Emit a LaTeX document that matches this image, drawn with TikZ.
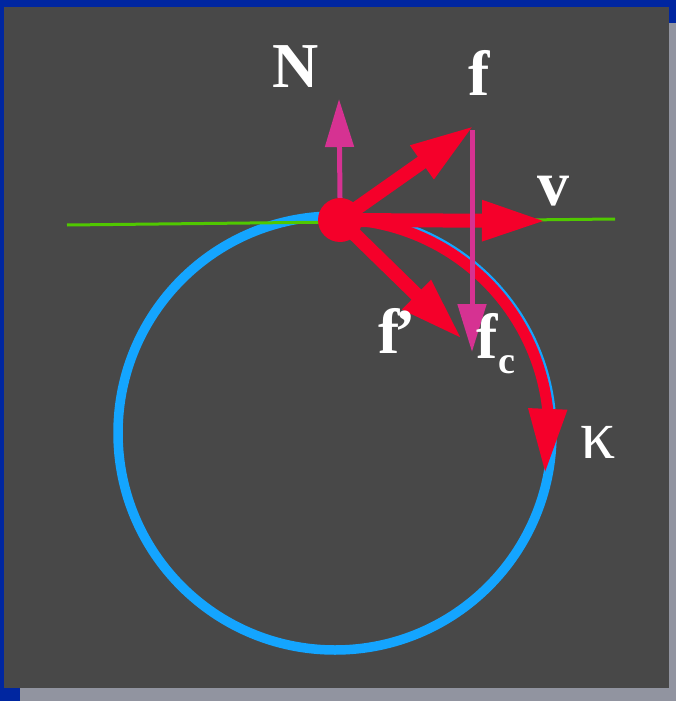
\documentclass[tikz,border=0pt]{standalone}
\usepackage{fontspec}
\setmainfont{Liberation Serif}
\usetikzlibrary{arrows.meta,bending,calc}
\definecolor{slideblue}{RGB}{0,38,160}
\definecolor{shadowgray}{RGB}{145,148,160}
\definecolor{boardgray}{RGB}{72,72,72}
\definecolor{vecred}{RGB}{245,0,42}
\definecolor{vecpink}{RGB}{214,50,146}
\definecolor{orbitblue}{RGB}{20,165,255}
\definecolor{tangreen}{RGB}{80,200,0}
\tikzset{
redvec/.style={vecred,line width=14pt,-{Triangle[length=65pt,width=37pt]}},
pinkvec/.style={vecpink,line width=5pt,-{Triangle[length=48pt,width=28pt]}},
curvevec/.style={vecred,line width=11pt,-{Triangle[length=65pt,width=36pt,flex]}},
orbit/.style={orbitblue,line width=9.5pt},
tangent/.style={tangreen,line width=3pt},
lbl/.style={text=white,inner sep=0pt,anchor=base,font=\fontsize{64}{64}\selectfont\bfseries},
sublbl/.style={font=\fontsize{38}{38}\selectfont\bfseries}
}

\begin{document}
\begin{tikzpicture}[x=1pt,y=-1pt]
% slide frame
\fill[slideblue] (0,0) rectangle (676,701);
\fill[shadowgray] (20,23) rectangle (676,701);
\fill[boardgray] (4,7) rectangle (669,688);
\useasboundingbox (0,0) rectangle (676,701);

\coordinate (O) at (335,433);
\draw[orbit] (O) circle[radius=217];
\coordinate (tanL) at (67,225);
\coordinate (tanR) at (615,219);
\draw[tangent] (tanL) -- (tanR);

\node[circle,fill=vecred,minimum size=44pt,inner sep=0pt] (P) at (340,220) {};
\coordinate (fTip) at (475,125);
\coordinate (vTip) at (547,221);
\coordinate (fpTip) at (463,340);
\coordinate (NTip) at (339,99);
\coordinate (fcTop) at (472,130);
\coordinate (fcTip) at (472,352);

% vectors
\draw[curvevec] ($(O)+(-88:214)$) arc[start angle=-88,end angle=11,radius=214];
\draw[redvec] (P.center) -- (fTip);
\draw[redvec] (P.center) -- (vTip);
\draw[redvec] (P.center) -- (fpTip);
\draw[pinkvec] (P.north) -- (NTip);
\draw[pinkvec] (fcTop) -- (fcTip);

% labels
\node[lbl] (lN) at (296,87) {N};
\node[lbl] (lf) at (479,95) {f};
\node[lbl] (lv) at (553,205) {v};
\node[lbl] (lfp) at (397,353) {f\kern-5pt'};
\node[lbl] (lfc) at (496,358) {f\raisebox{-15pt}{\tikz[baseline]\node[sublbl,text=white,inner sep=0pt,anchor=base]{c};}};
\node[lbl,font=\fontsize{70}{70}\selectfont] (lk) at (598,458) {κ};
\end{tikzpicture}
\end{document}
